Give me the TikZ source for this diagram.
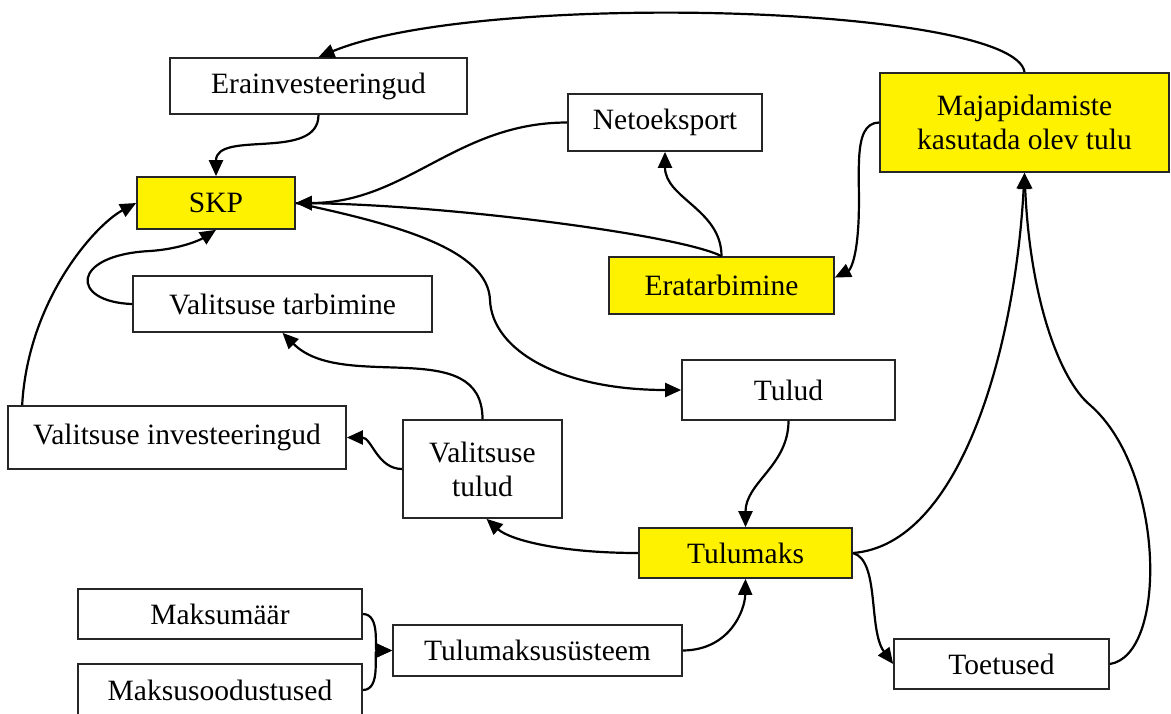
\documentclass[tikz,border=0pt]{standalone}
\usepackage{fontspec}
\setmainfont{Liberation Serif}
\usetikzlibrary{arrows.meta,calc}
\begin{document}
\begin{tikzpicture}[x=1pt,y=1pt,
  box/.style={draw=black!85,line width=1.7pt,rectangle,inner sep=0pt,
    font=\fontsize{29.5}{34}\selectfont,align=center},
  hl/.style={box,fill=yellow},
  conn/.style={line width=2.2pt,-{Triangle[length=16pt,width=14pt]}},
  plain/.style={line width=2.2pt}]
\useasboundingbox[fill=white] (0,0) rectangle (1171,-713);
% nodes
\node[box,minimum width=297pt,minimum height=56pt] (erai) at (318.5,-86) {Erainvesteeringud};
\node[box,minimum width=194pt,minimum height=57pt] (neto) at (665,-122.5) {Netoeksport};
\node[hl,minimum width=289pt,minimum height=99pt] (maj) at (1024.5,-122.5) {Majapidamiste\\kasutada olev tulu};
\node[hl,minimum width=158pt,minimum height=52pt] (skp) at (216,-203) {SKP};
\node[hl,minimum width=225pt,minimum height=57pt] (erat) at (721.5,-285.5) {Eratarbimine};
\node[box,minimum width=299pt,minimum height=56pt] (vtarb) at (282.5,-304) {Valitsuse tarbimine};
\node[box,minimum width=213pt,minimum height=60pt] (tulud) at (788.5,-390) {Tulud};
\node[box,minimum width=338pt,minimum height=63pt] (vinv) at (177,-437.5) {Valitsuse investeeringud};
\node[box,minimum width=159pt,minimum height=98pt] (vtul) at (482.5,-469) {Valitsuse\\tulud};
\node[hl,minimum width=213pt,minimum height=50pt] (tmaks) at (745.5,-553) {Tulumaks};
\node[box,minimum width=284pt,minimum height=50pt] (mmaar) at (220,-614) {Maksumäär};
\node[box,minimum width=289pt,minimum height=51pt] (tms) at (537.5,-650.5) {Tulumaksusüsteem};
\node[box,minimum width=284pt,minimum height=52pt] (msood) at (220,-690) {Maksusoodustused};
\node[box,minimum width=215pt,minimum height=50pt] (toet) at (1001.5,-664) {Toetused};
\coordinate (vinvtop) at ($(vinv.north west)+(15,0)$);
\coordinate (vtulbot) at ($(vtul.south)+(4,0)$);
% connectors
\draw[conn] (maj.north) .. controls (1015,-5) and (480,10) .. (erai.north);
\draw[conn] (erai.south) to[out=-90,in=90] (skp.north);
\draw[conn] (neto.west) to[out=180,in=0] (skp.east);
\draw[conn] (erat.north) .. controls (680,-235) and (450,-205) .. (skp.east);
\draw[conn] (erat.north) to[out=90,in=-90] (neto.south);
\draw[conn] (maj.west) .. controls (850,-123) and (862,-180) .. (858,-230)
  .. controls (856,-260) and (850,-270) .. (erat.4);
\draw[conn] (skp.east) .. controls (400,-225) and (488,-250) .. (490,-300)
  .. controls (492,-350) and (560,-390) .. (tulud.west);
\draw[conn] (vtul.north) to[out=90,in=-45] (vtarb.south);
\draw[conn] (vtul.west) to[out=180,in=0] (vinv.east);
\draw[conn] (tmaks.west) .. controls (560,-553) and (510,-540) .. (vtulbot);
\draw[conn] (tulud.south) to[out=-90,in=90] (tmaks.north);
\draw[conn] (tms.east) .. controls (730,-650) and (745,-610) .. (tmaks.south);
\draw[conn] (mmaar.east) to[out=0,in=180] (tms.west);
\draw[conn] (msood.east) to[out=0,in=180] (tms.west);
\draw[conn] (tmaks.east) .. controls (960,-545) and (1015,-350) .. (maj.south);
\draw[conn] (tmaks.east) .. controls (880,-560) and (868,-630) .. (toet.west);
\draw[conn] (toet.east) .. controls (1168,-655) and (1165,-470) .. (1090,-405)
  .. controls (1060,-380) and (1030,-300) .. (maj.south);
\draw[conn] (vinvtop) .. controls (28,-300) and (95,-225) .. (skp.west);
\draw[conn] (vtarb.west) .. controls (70,-302) and (70,-255) .. (150,-251)
  .. controls (180,-249) and (200,-240) .. (skp.south);
\end{tikzpicture}
\end{document}
